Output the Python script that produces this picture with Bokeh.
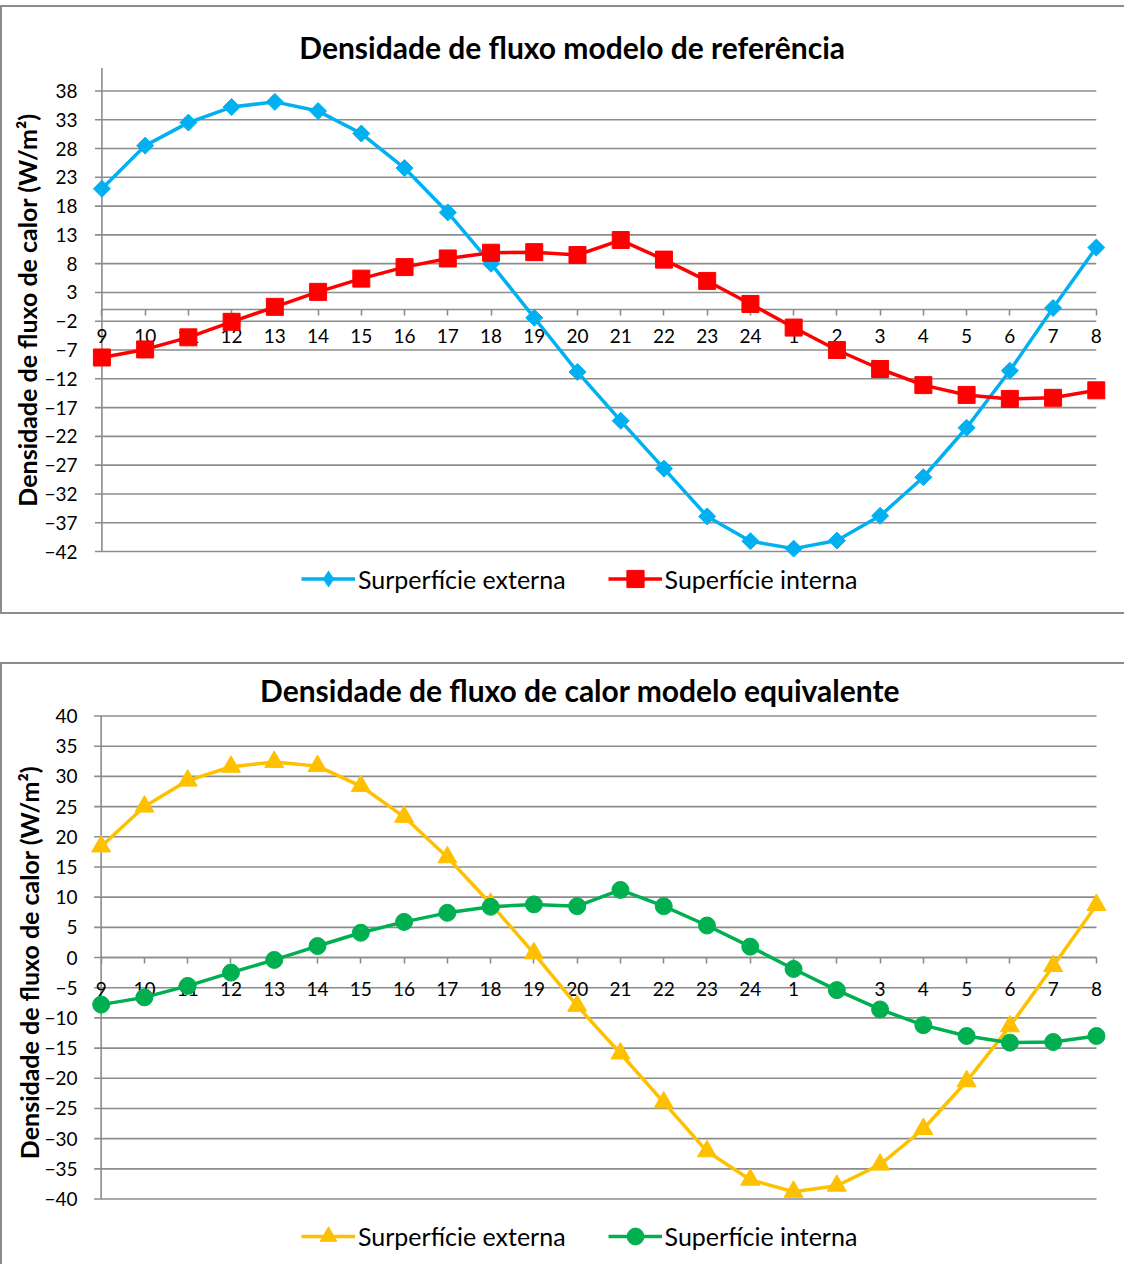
import math
from bokeh.plotting import figure
from bokeh.models import Range1d, FixedTicker, Legend, LegendItem, Spacer, Label
from bokeh.layouts import column
from bokeh.embed import file_html
from bokeh.resources import INLINE

# ---------------- data ----------------
hours = ["9", "10", "11", "12", "13", "14", "15", "16", "17", "18", "19", "20",
         "21", "22", "23", "24", "1", "2", "3", "4", "5", "6", "7", "8"]

# Densidade de fluxo modelo de referência
ref_externa = [21.0, 28.5, 32.5, 35.2, 36.1, 34.5, 30.6, 24.6, 16.9, 8.0, -1.4, -10.8,
               -19.3, -27.6, -35.9, -40.2, -41.5, -40.1, -35.8, -29.1, -20.5, -10.6, 0.3, 10.8]
ref_interna = [-8.3, -6.9, -4.8, -2.1, 0.5, 3.1, 5.4, 7.4, 8.9, 9.9, 10.0, 9.5,
               12.1, 8.7, 5.0, 1.0, -3.1, -7.0, -10.3, -13.1, -14.8, -15.5, -15.3, -14.0]
ref_yticks = [-42, -37, -32, -27, -22, -17, -12, -7, -2, 3, 8, 13, 18, 23, 28, 33, 38]

# Densidade de fluxo de calor modelo equivalente
eq_externa = [18.4, 25.0, 29.3, 31.6, 32.4, 31.7, 28.4, 23.3, 16.6, 8.9, 0.7, -8.0,
              -15.9, -24.0, -32.1, -36.8, -38.8, -37.8, -34.3, -28.4, -20.5, -11.4, -1.4, 8.7]
eq_interna = [-7.8, -6.6, -4.7, -2.5, -0.4, 1.9, 4.1, 5.9, 7.4, 8.4, 8.8, 8.5,
              11.2, 8.5, 5.3, 1.8, -1.9, -5.4, -8.6, -11.2, -13.0, -14.1, -14.0, -13.0]
eq_yticks = [-40, -35, -30, -25, -20, -15, -10, -5, 0, 5, 10, 15, 20, 25, 30, 35, 40]

labels = ["Surperfície externa", "Superfície interna"]

# ---------------- style ----------------
FONT = "Lato"
GRID = "#8c8c8c"
Y_LABEL = "Densidade de fluxo de calor (W/m²)"
BORDER = "2px solid #8c8c8c"


def build(title, ext, intr, yticks, ybounds, xr, yr, borders, height,
          ext_marker, int_marker, title_pos, legend_loc, legend_gh,
          tick_len, xlabel_standoff, ylabel_standoff, box_style):
    left, right, top, bottom = borders
    p = figure(width=1124, height=height, output_backend="svg", toolbar_location=None,
               x_range=Range1d(*xr), y_range=Range1d(*yr),
               min_border_left=left, min_border_right=right,
               min_border_top=top, min_border_bottom=bottom)
    p.outline_line_color = None
    p.xgrid.visible = False
    p.ygrid.visible = False
    p.background_fill_color = "white"
    p.border_fill_color = "white"
    p.styles = box_style

    xs = list(range(len(hours)))

    # horizontal gridlines (extended to the left to form the y tick marks)
    p.segment(x0=xs[0] - tick_len, x1=xs[-1], y0=yticks, y1=yticks,
              line_color=GRID, line_width=1.6, level="underlay")
    # vertical axis line through the first category
    p.segment(x0=[xs[0]], x1=[xs[0]], y0=[ybounds[0]], y1=[ybounds[1]],
              line_color=GRID, line_width=1.6, level="underlay")

    # series
    ec, emk, esz, eang, elegmk = ext_marker
    ic, imk, isz, iang, ilegmk = int_marker
    l1 = p.line(xs, ext, line_color=ec, line_width=3.5)
    s1 = p.scatter(xs, ext, marker=emk, size=esz, angle=eang,
                   fill_color=ec, line_color=ec)
    l2 = p.line(xs, intr, line_color=ic, line_width=3.5)
    s2 = p.scatter(xs, intr, marker=imk, size=isz, angle=iang,
                   fill_color=ic, line_color=ic)
    # legend swatches (zero size in the plot; the legend sizes them itself)
    k1 = s1 if elegmk is None else p.scatter(xs, ext, marker=elegmk, size=0,
                                             fill_color=ec, line_color=None)
    k2 = s2 if ilegmk is None else p.scatter(xs, intr, marker=ilegmk, size=0,
                                             fill_color=ic, line_color=None)

    # x axis crossing at zero
    xa = p.xaxis[0]
    xa.fixed_location = 0
    xa.bounds = (xs[0], xs[-1])
    xa.ticker = FixedTicker(ticks=xs)
    xa.major_label_overrides = {i: h for i, h in enumerate(hours)}
    xa.major_tick_out = 6
    xa.major_tick_in = 0
    xa.minor_tick_out = 0
    xa.minor_tick_in = 0
    xa.axis_line_color = GRID
    xa.axis_line_width = 1.6
    xa.major_tick_line_color = GRID
    xa.major_tick_line_width = 1.6
    xa.major_label_standoff = xlabel_standoff
    xa.major_label_text_font = FONT
    xa.major_label_text_font_size = "19px"
    xa.major_label_text_color = "black"
    xa.level = "underlay"

    # y axis labels (line and ticks drawn above in data space)
    ya = p.yaxis[0]
    ya.bounds = ybounds
    ya.ticker = FixedTicker(ticks=yticks)
    ya.major_tick_out = 0
    ya.major_tick_in = 0
    ya.minor_tick_out = 0
    ya.minor_tick_in = 0
    ya.axis_line_color = None
    ya.major_tick_line_color = None
    ya.minor_tick_line_color = None
    ya.major_label_standoff = 13
    ya.major_label_text_font = FONT
    ya.major_label_text_font_size = "19px"
    ya.major_label_text_color = "black"
    ya.axis_label = Y_LABEL
    ya.axis_label_standoff = ylabel_standoff
    ya.axis_label_text_font = FONT
    ya.axis_label_text_font_style = "bold"
    ya.axis_label_text_font_size = "25px"
    ya.axis_label_text_color = "black"

    # chart title, drawn inside the (extended) plot frame above the axes
    p.add_layout(Label(x=title_pos[0], y=title_pos[1], text=title,
                       text_font=FONT, text_font_style="bold", text_font_size="30px",
                       text_color="black", text_align="center", text_baseline="middle"))

    legend = Legend(items=[LegendItem(label=labels[0], renderers=[l1, k1]),
                           LegendItem(label=labels[1], renderers=[l2, k2])],
                    orientation="horizontal", location=legend_loc, spacing=42,
                    glyph_width=54, glyph_height=legend_gh, label_standoff=3,
                    padding=0, margin=0, border_line_color=None,
                    background_fill_alpha=0,
                    label_text_font=FONT, label_text_font_size="25px",
                    label_text_color="black")
    p.add_layout(legend)
    return p


# top chart box: page y 5..618, canvas origin at page (2, 7), frame 90..1112 x 13..606
p1 = build("Densidade de fluxo modelo de referência", ref_externa, ref_interna,
           ref_yticks, (-42, 42), (-0.264, 23.236), (-51.55, 51.45),
           (88, 14, 6, 10), 609,
           ("#00B0F0", "square", 12, math.pi / 4, "diamond"),
           ("#FF0000", "square", 17, 0, None),
           (10.876, 45.66), (211, 6), 43, 0.161, 13, -1,
           {"border-top": BORDER, "border-left": BORDER, "border-bottom": BORDER})

# bottom chart box: page y 666..1270, canvas origin at page (2, 668)
p2 = build("Densidade de fluxo de calor modelo equivalente", eq_externa, eq_interna,
           eq_yticks, (-40, 40), (-0.246, 23.232), (-49.85, 48.2),
           (83, 20, 2, 8), 602,
           ("#FFC000", "triangle", 19, 0, None),
           ("#00B050", "circle", 17, 0, None),
           (11.068, 44.35), (211, 1), 42, 0.161, 18, -3,
           {"border-top": BORDER, "border-left": BORDER})

layout = column(Spacer(height=5), p1, Spacer(height=48), p2)
open("out.html", "w").write(file_html(layout, INLINE))
